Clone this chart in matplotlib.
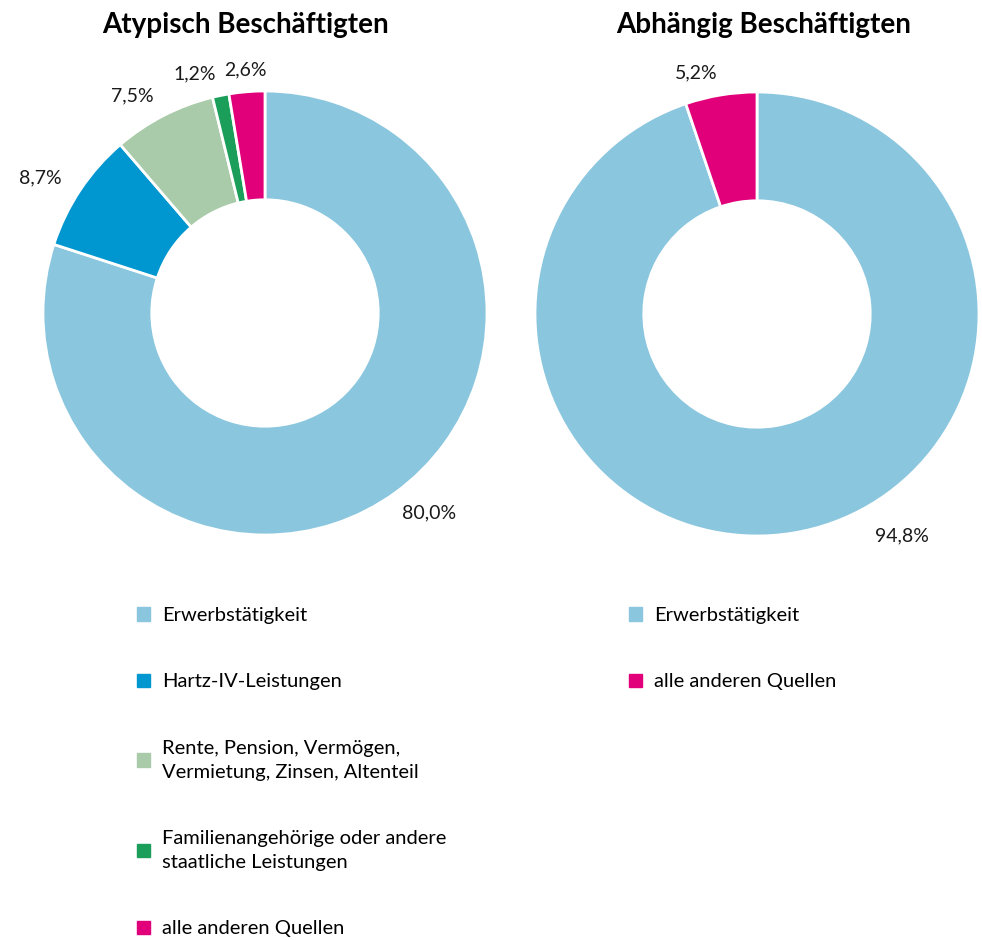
import numpy as np
import matplotlib.pyplot as plt
from matplotlib.patches import Patch

plt.rcParams['font.family'] = ['Lato', 'DejaVu Sans']

# Einkommensquellen
cats_atyp = ['Erwerbstätigkeit', 'Hartz-IV-Leistungen',
             'Rente, Pension, Vermögen,\nVermietung, Zinsen, Altenteil',
             'Familienangehörige oder andere\nstaatliche Leistungen',
             'alle anderen Quellen']
vals_atyp = [80.0, 8.7, 7.5, 1.2, 2.6]

cats_abh = ['Erwerbstätigkeit', 'alle anderen Quellen']
vals_abh = [94.8, 5.2]

colors_atyp = ['#8AC6DE', '#0096CF', '#A9CBA9', '#1B9E5A', '#E2007A']
colors_abh = ['#8AC6DE', '#E2007A']


def fmt(v):
    return f'{v:.1f}'.replace('.', ',') + '%'


def donut(ax, vals, colors, label_angles=None):
    wedges, texts = ax.pie(
        vals, labels=[fmt(v) for v in vals], colors=colors,
        startangle=90, counterclock=False, labeldistance=1.1, radius=1,
        wedgeprops=dict(width=0.49, edgecolor='white', linewidth=2),
        textprops=dict(fontsize=14, color='#1a1a1a'))
    for t in texts:
        x, y = t.get_position()
        if abs(x) < 0.15:
            t.set_ha('center')
    # manche Beschriftungen sitzen im Original nicht in der Segmentmitte
    if label_angles:
        for i, (ang, r) in label_angles.items():
            a = np.deg2rad(ang)
            texts[i].set_position((r * np.cos(a), r * np.sin(a)))
    ax.set_xlim(-1, 1)
    ax.set_ylim(-1, 1)
    return wedges


fig = plt.figure(figsize=(9.82, 9.40), dpi=100)

ax1 = fig.add_axes([43/982, 405/940, 444/982, 444/940])
ax2 = fig.add_axes([535/982, 404/940, 444/982, 444/940])

donut(ax1, vals_atyp, colors_atyp, label_angles={0: (-55.5, 1.09)})
donut(ax2, vals_abh, colors_abh, label_angles={0: (-62, 1.13)})

fig.text(245/982, 1 - 25/940, 'Atypisch Beschäftigten', ha='center', va='center',
         fontsize=20, fontweight='bold')
fig.text(764/982, 1 - 25/940, 'Abhängig Beschäftigten', ha='center', va='center',
         fontsize=20, fontweight='bold')

leg_kw = dict(loc='upper left', frameon=False, fontsize=14.5, handlelength=0.65,
              handleheight=0.65, handletextpad=0.6, labelspacing=2.45,
              borderaxespad=0, borderpad=0)
h1 = [Patch(color=c) for c in colors_atyp]
leg1 = fig.legend(h1, cats_atyp, bbox_to_anchor=(137/982, 1 - 607/940), **leg_kw)
h2 = [Patch(color=c) for c in colors_abh]
leg2 = fig.legend(h2, cats_abh, bbox_to_anchor=(629/982, 1 - 607/940), **leg_kw)
for leg in (leg1, leg2):
    for t in leg.get_texts():
        t.set_linespacing(1.5)

fig.savefig('out.png', dpi=100)
